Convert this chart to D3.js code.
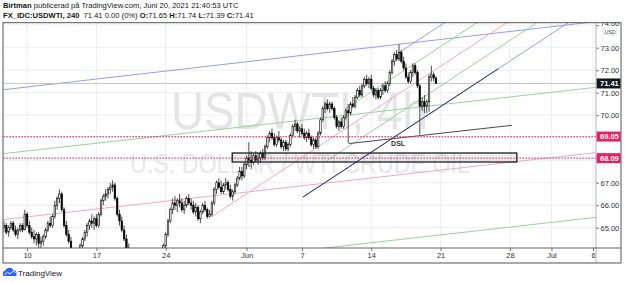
<!DOCTYPE html>
<html>
<head>
<meta charset="utf-8">
<title>USDWTI 4h</title>
<style type="text/css">
  body { margin: 0; background: #fff; }
  svg { display: block; font-family: 'Liberation Sans', Arial, sans-serif; }
  .axis text { fill: #333; font-size: 7.5px; }
  .axis line { stroke: #777; }
</style>
</head>
<body>
<svg id="chart" width="625" height="283"></svg>
<script src="https://cdnjs.cloudflare.com/ajax/libs/d3/7.8.5/d3.min.js"></script>
<script type="text/javascript">

  // 4h bars, [open, high, low, close], bar index 0 = first visible bar
  var ohlc = [
    [65.0,65.3,64.8,65.1],[65.1,65.2,64.7,64.8],[64.8,65.1,64.6,65.0],[65.0,65.3,64.9,65.2],[65.2,65.3,64.8,64.9],
    [64.9,65.1,64.6,64.7],[64.7,65.0,64.5,64.9],[64.9,65.2,64.8,65.1],[65.1,65.2,64.8,64.9],[64.9,65.8,64.9,65.6],
    [65.6,65.7,65.0,65.1],[65.1,65.3,64.7,64.8],[64.8,65.0,64.5,64.6],[64.6,64.9,64.3,64.5],[64.5,64.8,64.2,64.7],
    [64.7,64.8,64.1,64.3],[64.3,64.6,64.0,64.4],[64.4,64.7,64.2,64.6],[64.6,65.0,64.5,64.9],[64.9,65.3,64.8,65.2],
    [65.2,65.5,65.0,65.1],[65.1,65.6,65.0,65.5],[65.5,66.2,65.4,66.0],[66.0,66.4,65.8,66.3],[66.3,66.7,66.1,66.5],
    [66.5,66.6,65.7,65.8],[65.8,65.9,65.0,65.1],[65.1,65.3,64.6,64.7],[64.7,64.9,64.3,64.4],[64.4,64.6,63.8,63.9],
    [63.9,64.1,63.5,63.7],[63.7,64.0,63.4,63.8],[63.8,64.1,63.6,63.9],[63.9,64.3,63.8,64.2],[64.2,64.6,64.0,64.5],
    [64.5,64.9,64.4,64.8],[64.8,65.2,64.6,65.1],[65.1,65.4,64.9,65.3],[65.3,65.6,65.0,65.2],[65.2,65.5,64.9,65.4],
    [65.4,65.6,65.0,65.1],[65.1,65.7,65.0,65.6],[65.6,66.3,65.5,66.2],[66.2,66.5,66.0,66.4],[66.4,66.7,66.2,66.5],
    [66.5,66.8,66.3,66.7],[66.7,67.0,66.5,66.8],[66.8,67.1,66.6,66.9],[66.9,67.0,66.2,66.3],[66.3,66.4,65.5,65.6],
    [65.6,65.8,65.1,65.3],[65.3,65.5,64.8,64.9],[64.9,65.1,64.4,64.5],[64.5,64.7,64.0,64.1],[64.1,64.3,63.7,63.8],
    [63.8,64.0,63.3,63.5],[63.5,63.7,63.1,63.2],[63.2,63.5,62.9,63.3],[63.3,63.6,63.0,63.1],[63.1,63.3,62.7,62.8],
    [62.8,63.1,62.5,62.9],[62.9,63.2,62.6,63.0],[63.0,63.4,62.8,63.2],[63.2,63.5,62.9,63.0],[63.0,63.3,62.7,63.1],
    [63.1,63.6,63.0,63.4],[63.4,63.7,63.1,63.3],[63.3,63.8,63.2,63.6],[63.6,64.0,63.4,63.8],[63.8,64.3,63.7,64.2],
    [64.2,64.8,64.1,64.7],[64.7,65.4,64.6,65.3],[65.3,65.9,65.2,65.8],[65.8,66.3,65.6,66.1],[66.1,66.4,65.8,66.0],
    [66.0,66.3,65.7,66.2],[66.2,66.5,65.9,66.1],[66.1,66.3,65.7,65.8],[65.8,66.2,65.6,66.0],[66.0,66.4,65.9,66.3],
    [66.3,66.5,66.0,66.1],[66.1,66.3,65.8,66.0],[66.0,66.2,65.6,65.7],[65.7,66.1,65.5,65.9],[65.9,66.0,65.3,65.4],
    [65.4,65.8,65.2,65.7],[65.7,66.1,65.6,66.0],[66.0,66.2,65.7,65.8],[65.8,65.9,65.4,65.5],[65.5,65.8,65.45,65.6],
    [65.6,66.2,65.5,66.1],[66.1,66.8,66.0,66.7],[66.7,67.1,66.5,67.0],[67.0,67.2,66.7,66.8],[66.8,67.1,66.5,66.6],
    [66.6,67.0,66.5,66.9],[66.9,67.2,66.7,67.0],[67.0,67.1,66.6,66.7],[66.7,66.9,66.3,66.4],[66.4,66.7,66.2,66.6],
    [66.6,67.0,66.5,66.9],[66.9,67.3,66.8,67.2],[67.2,67.7,67.1,67.5],[67.5,67.7,67.1,67.3],[67.3,67.9,67.2,67.8],
    [67.8,68.2,67.6,68.1],[68.1,68.8,67.7,68.0],[68.0,68.4,67.6,67.9],[67.9,68.3,67.8,68.2],[68.2,68.4,67.9,68.0],
    [68.0,68.3,67.8,68.1],[68.1,68.4,67.9,68.3],[68.3,68.5,68.0,68.1],[68.1,68.7,68.0,68.6],[68.6,69.1,68.5,69.0],
    [69.0,69.3,68.8,69.2],[69.2,69.4,68.9,69.0],[69.0,69.2,68.6,68.7],[68.7,69.1,68.6,69.0],[69.0,69.3,68.8,68.9],
    [68.9,69.0,68.5,68.6],[68.6,68.9,68.4,68.8],[68.8,68.9,68.4,68.5],[68.5,68.8,68.4,68.7],[68.7,69.2,68.6,69.1],
    [69.1,69.6,69.0,69.5],[69.5,69.8,69.3,69.6],[69.6,69.7,69.2,69.3],[69.3,69.5,69.0,69.4],[69.4,69.6,69.1,69.2],
    [69.2,69.4,68.9,69.0],[69.0,69.3,68.8,69.2],[69.2,69.4,68.9,69.0],[69.0,69.1,68.6,68.7],[68.7,69.0,68.5,68.9],
    [68.9,69.0,68.5,68.6],[68.6,69.3,68.5,69.2],[69.2,69.9,69.1,69.8],[69.8,70.4,69.7,70.3],[70.3,70.6,70.1,70.5],
    [70.5,70.7,70.2,70.3],[70.3,70.6,70.1,70.5],[70.5,70.6,70.2,70.3],[70.3,70.4,69.8,69.9],[69.9,70.0,69.4,69.5],
    [69.5,69.8,69.3,69.7],[69.7,69.9,69.4,69.5],[69.5,70.0,69.4,69.9],[69.9,70.3,69.8,70.2],[70.2,70.5,68.75,70.1],
    [70.1,70.6,70.0,70.5],[70.5,70.8,70.3,70.4],[70.4,70.9,70.3,70.8],[70.8,71.2,70.7,71.1],[71.1,71.3,70.8,70.9],
    [70.9,71.4,70.8,71.3],[71.3,71.7,71.2,71.6],[71.6,71.8,71.3,71.4],[71.4,71.7,71.2,71.6],[71.6,71.8,71.1,71.2],
    [71.2,71.3,70.8,70.9],[70.9,71.2,70.7,71.1],[71.1,71.2,70.7,70.8],[70.8,71.2,70.7,71.1],[71.1,71.4,70.9,71.3],
    [71.3,71.5,71.0,71.1],[71.1,71.5,71.0,71.4],[71.4,72.0,71.3,71.9],[71.9,72.5,71.8,72.4],[72.4,72.8,72.2,72.7],
    [72.7,72.9,72.4,72.5],[72.5,73.15,72.4,72.8],[72.8,72.9,72.3,72.4],[72.4,72.6,72.0,72.1],[72.1,72.3,71.6,71.7],
    [71.7,71.9,71.4,71.5],[71.5,72.0,71.4,71.9],[71.9,72.3,71.7,72.2],[72.2,72.3,71.8,71.9],[71.9,72.0,71.2,71.3],
    [71.3,71.4,69.15,70.4],[70.4,70.8,70.2,70.6],[70.6,70.9,70.1,70.4],[70.4,70.7,70.1,70.6],[70.6,71.8,70.15,71.7],
    [71.7,72.2,71.5,71.8],[71.8,71.9,71.5,71.65],[71.65,71.74,71.39,71.41]
  ];

  var dayTicks  = [10, 40, 70, 105, 129, 159, 189, 219, 237, 255];
  var dayLabels = ['10', '17', '24', 'Jun', '7', '14', '21', '28', 'Jul', '6'];
  var priceTicks = [65, 66, 67, 68, 69, 70, 71, 72, 73, 74];

  var lastPrice = 71.41;
  var hLevels = [69.05, 68.09];

  // [bar0, price0, bar1, price1]
  var channelLines = [
    [-0.4, 71.13, 256.3, 74.16],
    [-0.4, 68.29, 256.3, 71.24],
    [-0.4, 65.36, 256.3, 68.34],
    [-0.4, 62.48, 256.3, 65.46]
  ];
  var forkLines = [
    [171.4, 72.81, 195.8, 74.45],
    [147.6, 70.26, 209.7, 74.45],
    [89.9, 65.49, 222.7, 74.45],
    [139.8, 67.98, 235.7, 74.45],
    [129.4, 66.36, 249.3, 74.45]
  ];
  var trendLine = [129.4, 66.36, 213.9, 72.06];
  var dslLine = [149.4, 68.74, 219.8, 69.55];
  var zone = [98.8, 68.32, 222, 67.92];

  var channelColors = ['#9a9cf2', '#98d39a', '#f4a8c3', '#98d39a'];
  var forkColors = ['#9a9cf2', '#98d39a', '#f4a8c3', '#98d39a', '#9a9cf2'];

  var plot = { left: 3.5, right: 596, top: 22.7, bottom: 248 };

  var svg = d3.select('#chart');

  var xScale = d3.scaleLinear().domain([0, 255]).range([4, 593.05]);
  var yScale = d3.scaleLinear().domain([65, 73]).range([227.7, 47.7]);

  svg.append('defs').append('clipPath').attr('id', 'plotclip')
    .append('rect')
    .attr('x', plot.left).attr('y', plot.top)
    .attr('width', plot.right - plot.left).attr('height', plot.bottom - plot.top);

  // grid
  var grid = svg.append('g').attr('clip-path', 'url(#plotclip)');
  grid.selectAll('.vg').data(dayTicks).enter().append('line')
    .attr('x1', function(d) { return xScale(d) }).attr('x2', function(d) { return xScale(d) })
    .attr('y1', plot.top).attr('y2', plot.bottom)
    .attr('stroke', '#eceef2').attr('stroke-width', 1);
  grid.selectAll('.hg').data(priceTicks).enter().append('line')
    .attr('x1', plot.left).attr('x2', plot.right)
    .attr('y1', function(d) { return yScale(d) }).attr('y2', function(d) { return yScale(d) })
    .attr('stroke', '#eceef2').attr('stroke-width', 1);

  // watermark
  svg.append('text')
    .attr('x', 171).attr('y', 128.5)
    .attr('font-size', 51).attr('fill', '#e4e4e6')
    .attr('textLength', 257).attr('lengthAdjust', 'spacingAndGlyphs')
    .text('USDWTI, 4h');
  svg.append('text')
    .attr('x', 130).attr('y', 173)
    .attr('font-size', 27).attr('fill', '#e8e8ea')
    .attr('textLength', 340).attr('lengthAdjust', 'spacingAndGlyphs')
    .text('U.S. DOLLAR / WTI CRUDE OIL');

  var marks = svg.append('g').attr('clip-path', 'url(#plotclip)');

  function seg(g, d, color, width) {
    return g.append('line')
      .attr('x1', xScale(d[0])).attr('y1', yScale(d[1]))
      .attr('x2', xScale(d[2])).attr('y2', yScale(d[3]))
      .attr('stroke', color).attr('stroke-width', width || 1);
  }

  channelLines.forEach(function(d, i) { seg(marks, d, channelColors[i], 1) });
  forkLines.forEach(function(d, i) { seg(marks, d, forkColors[i], 1) });

  // last price line
  marks.append('line')
    .attr('x1', plot.left).attr('x2', plot.right)
    .attr('y1', yScale(lastPrice)).attr('y2', yScale(lastPrice))
    .attr('stroke', '#b8b8b8').attr('stroke-width', 0.8);

  // candles
  var candle = marks.selectAll('.candle').data(ohlc).enter().append('g');
  candle.append('line')
    .attr('x1', function(d, i) { return xScale(i) }).attr('x2', function(d, i) { return xScale(i) })
    .attr('y1', function(d) { return yScale(d[1]) }).attr('y2', function(d) { return yScale(d[2]) })
    .attr('stroke', '#000').attr('stroke-width', 0.7);
  candle.append('rect')
    .attr('x', function(d, i) { return xScale(i) - 0.75 })
    .attr('width', 1.5)
    .attr('y', function(d) { return yScale(Math.max(d[0], d[3])) })
    .attr('height', function(d) { return Math.max(0.6, Math.abs(yScale(d[0]) - yScale(d[3]))) })
    .attr('fill', function(d) { return d[3] >= d[0] ? '#fff' : '#000' })
    .attr('stroke', '#000').attr('stroke-width', 0.6);

  // drawings on top
  seg(marks, trendLine, '#2c2f72', 1);
  seg(marks, dslLine, '#4a4a4a', 1);
  marks.append('text')
    .attr('x', xScale(170.6)).attr('y', yScale(68.76) + 2.5)
    .attr('text-anchor', 'middle').attr('font-size', 7).attr('font-weight', 'bold')
    .attr('fill', '#333').text('DSL');

  marks.selectAll('.lvl').data(hLevels).enter().append('line')
    .attr('x1', plot.left).attr('x2', plot.right)
    .attr('y1', function(d) { return yScale(d) }).attr('y2', function(d) { return yScale(d) })
    .attr('stroke', '#e91e63').attr('stroke-width', 1.3).attr('stroke-dasharray', '1.3,1.7');

  marks.append('rect')
    .attr('x', xScale(zone[0])).attr('y', yScale(zone[1]))
    .attr('width', xScale(zone[2]) - xScale(zone[0]))
    .attr('height', yScale(zone[3]) - yScale(zone[1]))
    .attr('fill', 'rgba(120,123,134,0.12)').attr('stroke', '#1e1e1e').attr('stroke-width', 1.3);

  // axes
  var tags = [lastPrice].concat(hLevels);
  var yAxis = d3.axisRight(yScale).tickValues(priceTicks).tickFormat(d3.format('.2f')).tickSize(3).tickPadding(1.5);
  var ya = svg.append('g').attr('class', 'axis').attr('transform', 'translate(' + plot.right + ',0)').call(yAxis);
  ya.select('.domain').remove();
  // labels hidden behind the price tags
  ya.selectAll('.tick').filter(function(d) {
    return tags.some(function(p) { return Math.abs(yScale(p) - yScale(d)) < 9 });
  }).remove();
  ya.selectAll('.tick').filter(function(d) { return d === 74 }).select('text').attr('dy', '0.05em');

  var xAxis = d3.axisBottom(xScale).tickValues(dayTicks).tickFormat(function(d, i) { return dayLabels[i] }).tickSize(3).tickPadding(2);
  var xa = svg.append('g').attr('class', 'axis').attr('transform', 'translate(0,' + plot.bottom + ')').call(xAxis);
  xa.select('.domain').remove();

  // top price label partly under the frame
  svg.append('rect').attr('x', 596.5).attr('y', 0).attr('width', 28).attr('height', plot.top - 0.5).attr('fill', '#fff');

  // USD badge
  svg.append('rect').attr('x', 603).attr('y', 28).attr('width', 14).attr('height', 7).attr('rx', 1.5)
    .attr('fill', '#fff').attr('stroke', '#cfd1d6').attr('stroke-width', 0.6);
  svg.append('text').attr('x', 610).attr('y', 33.6).attr('text-anchor', 'middle')
    .attr('font-size', 5.3).attr('fill', '#444').text('USD');

  // price labels
  function priceTag(p, bg) {
    var y = yScale(p);
    svg.append('rect').attr('x', 596.5).attr('y', y - 5).attr('width', 24).attr('height', 10).attr('fill', bg);
    svg.append('text').attr('x', 600).attr('y', y + 2.7)
      .attr('font-size', 7.5).attr('font-weight', 'bold').attr('fill', '#fff').text(p.toFixed(2));
  }
  priceTag(lastPrice, '#131722');
  hLevels.forEach(function(p) { priceTag(p, '#e91e63') });

  // separators and frame
  svg.append('line').attr('x1', plot.right).attr('x2', plot.right).attr('y1', plot.top).attr('y2', 263)
    .attr('stroke', '#a0a3ab').attr('stroke-width', 0.8);
  svg.append('line').attr('x1', 3).attr('x2', 621).attr('y1', plot.bottom).attr('y2', plot.bottom)
    .attr('stroke', '#555').attr('stroke-width', 0.9);
  svg.append('rect').attr('x', 3).attr('y', plot.top).attr('width', 618).attr('height', 263 - plot.top)
    .attr('fill', 'none').attr('stroke', '#555').attr('stroke-width', 1);

  // header
  var h1 = svg.append('text').attr('x', 3).attr('y', 8).attr('font-size', 7.6).attr('fill', '#131722');
  h1.append('tspan').attr('font-weight', 'bold').text('Birtman');
  h1.append('tspan').text(' publicerad på TradingView.com, Juni 20, 2021 21:40:53 UTC');

  var h2 = svg.append('text').attr('x', 3).attr('y', 17.5).attr('font-size', 7.6).attr('fill', '#131722');
  [['FX_IDC:USDWTI, 240', true], ['  71.41 0.00 (0%) ', false], ['O:', true], ['71.65 ', false],
   ['H:', true], ['71.74 ', false], ['L:', true], ['71.39 ', false], ['C:', true], ['71.41', false]]
    .forEach(function(t) {
      h2.append('tspan').attr('font-weight', t[1] ? 'bold' : 'normal').attr('xml:space', 'preserve').text(t[0]);
    });

  // TradingView logo
  var logo = svg.append('g').attr('transform', 'translate(3,267)');
  logo.append('path')
    .attr('d', 'M0,9 L0,6 Q0,3.5 2.5,3.5 Q3.5,0.5 7,0.8 Q9.5,1 10.5,3.2 Q13.5,3.3 13.5,6.3 L13.5,9 Z')
    .attr('fill', '#2962ff');
  logo.append('path')
    .attr('d', 'M1.5,8 L4.5,5 L7,7 L10.5,3.8 L12.5,6')
    .attr('fill', 'none').attr('stroke', '#fff').attr('stroke-width', 1);
  svg.append('text').attr('x', 18).attr('y', 276).attr('font-size', 8).attr('fill', '#131722').text('TradingView');

</script>
</body>
</html>
